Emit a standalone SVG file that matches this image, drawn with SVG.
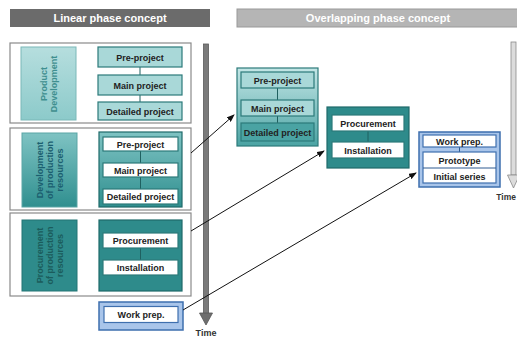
<svg xmlns="http://www.w3.org/2000/svg" width="517" height="338" viewBox="0 0 517 338">
<defs>
<linearGradient id="gMid" x1="0" y1="0" x2="0" y2="1"><stop offset="0" stop-color="#7fc3c3"/><stop offset="1" stop-color="#2f8f8f"/></linearGradient>
<linearGradient id="gLight" x1="0" y1="0" x2="0" y2="1"><stop offset="0" stop-color="#c4e6e6"/><stop offset="1" stop-color="#4aa3a3"/></linearGradient>
<linearGradient id="gPale" x1="0" y1="0" x2="0" y2="1"><stop offset="0" stop-color="#b6dede"/><stop offset="1" stop-color="#8ccaca"/></linearGradient>
<marker id="ah" markerWidth="8" markerHeight="6" refX="7" refY="3" orient="auto" markerUnits="userSpaceOnUse"><path d="M0,0 L8,3 L0,6 Z" fill="#111"/></marker>
</defs>
<style>
text{font-family:"Liberation Sans",Arial,sans-serif;font-weight:bold;}
.hd{font-size:11px;fill:#fff;text-anchor:middle;}
.lb{font-size:9px;fill:#222;text-anchor:middle;}
.rt{font-size:9px;text-anchor:middle;}
.panel{fill:#fff;stroke:#8a8a8a;stroke-width:1.2;}
.pale{fill:#a9d8d8;stroke:#2c7a7a;stroke-width:1.2;}
.wb{fill:#fff;stroke:#2c7a7a;stroke-width:1.2;}
.dk{fill:#2e8b8b;stroke:#1f6a6a;stroke-width:1.2;}
.bl{fill:#a9c5ea;stroke:#3e6fae;stroke-width:1.5;}
.wbb{fill:#fff;stroke:#3e6fae;stroke-width:1.2;}
.ln{stroke:#1f6060;stroke-width:1;}
.lnb{stroke:#2e5a90;stroke-width:1;}
.cn{stroke:#111;stroke-width:1;fill:none;marker-end:url(#ah);}
</style>
<rect width="517" height="338" fill="#fff"/>

<g id="header-linear">
<rect x="10" y="9" width="200" height="18" fill="#6b6b6b"/>
<text class="hd" x="110" y="22">Linear phase concept</text>
</g>
<g id="header-overlap">
<rect x="237" y="9" width="285" height="18" fill="#b5b5b5" stroke="#999" stroke-width="1"/>
<text class="hd" x="378" y="22" fill="#f4f4f4">Overlapping phase concept</text>
</g>

<g id="time-left">
<rect x="203.5" y="44" width="5" height="270" fill="#7a7a7a" stroke="#5a5a5a" stroke-width="0.8"/>
<polygon points="199.5,313 212.5,313 206,325" fill="#6e6e6e" stroke="#555" stroke-width="0.8"/>
<text x="206" y="336" font-size="9" fill="#333" text-anchor="middle">Time</text>
</g>
<g id="time-right">
<rect x="511" y="42" width="5" height="133" fill="#dcdcdc" stroke="#8a8a8a" stroke-width="0.8"/>
<polygon points="507.5,175 519.5,175 513.5,188" fill="#dcdcdc" stroke="#8a8a8a" stroke-width="0.8"/>
<text x="516" y="200" font-size="8.5" fill="#333" text-anchor="end">Time</text>
</g>

<g id="panel-product-development">
<rect class="panel" x="10" y="43" width="181" height="80"/>
<rect x="21" y="47" width="55" height="73" fill="url(#gPale)" stroke="#7ab8b8" stroke-width="1"/>
<text class="rt" fill="#3f8f8f" transform="translate(48.5,84) rotate(-90)"><tspan x="0" y="-2">Product</tspan><tspan x="0" y="8">Development</tspan></text>
<line class="ln" x1="140" y1="67" x2="140" y2="102"/>
<rect class="pale" x="98" y="47" width="84" height="20"/>
<text class="lb" x="140" y="60.5">Pre-project</text>
<rect class="pale" x="98" y="75" width="84" height="20"/>
<text class="lb" x="140" y="88.5">Main project</text>
<rect class="pale" x="98" y="102" width="84" height="18"/>
<text class="lb" x="140" y="114.5">Detailed project</text>
</g>

<g id="panel-development-resources">
<rect class="panel" x="10" y="128" width="181" height="82"/>
<rect x="22" y="133" width="55" height="74" fill="url(#gMid)" stroke="#5aa5a5" stroke-width="1"/>
<text class="rt" fill="#1c5f70" transform="translate(49.5,170) rotate(-90)"><tspan x="0" y="-7">Development</tspan><tspan x="0" y="3">of production</tspan><tspan x="0" y="13">resources</tspan></text>
<rect x="99" y="132" width="83" height="75" fill="url(#gMid)" stroke="#1f6a6a" stroke-width="1.2"/>
<line class="ln" x1="140.5" y1="151" x2="140.5" y2="189"/>
<rect class="wb" x="103" y="137" width="75" height="14"/>
<text class="lb" x="140.5" y="147.5">Pre-project</text>
<rect class="wb" x="103" y="163" width="75" height="14"/>
<text class="lb" x="140.5" y="173.5">Main project</text>
<rect class="wb" x="103" y="189" width="75" height="15"/>
<text class="lb" x="140.5" y="200">Detailed project</text>
</g>

<g id="panel-procurement-resources">
<rect class="panel" x="10" y="213" width="181" height="83"/>
<rect x="22" y="220" width="55" height="71" fill="#2e8b8b" stroke="#227575" stroke-width="1"/>
<text class="rt" fill="#1b5c5c" transform="translate(49.5,255.5) rotate(-90)"><tspan x="0" y="-7">Procurement</tspan><tspan x="0" y="3">of production</tspan><tspan x="0" y="13">resources</tspan></text>
<rect class="dk" x="99" y="220" width="83" height="71"/>
<line class="ln" x1="140.5" y1="248" x2="140.5" y2="260" stroke="#113f3f"/>
<rect class="wb" x="103" y="233" width="75" height="15"/>
<text class="lb" x="140.5" y="244">Procurement</text>
<rect class="wb" x="103" y="260" width="75" height="15"/>
<text class="lb" x="140.5" y="271">Installation</text>
</g>

<g id="work-prep-linear">
<rect class="bl" x="99" y="302" width="84" height="28"/>
<rect class="wbb" x="104" y="306.5" width="74" height="16"/>
<text class="lb" x="141" y="318">Work prep.</text>
</g>

<g id="overlap-development">
<rect x="237" y="68" width="81" height="78" fill="url(#gLight)" stroke="#2c7a7a" stroke-width="1.2"/>
<line class="ln" x1="277.5" y1="88" x2="277.5" y2="123"/>
<rect class="pale" x="241" y="72" width="73" height="16" fill="#a9dcdc"/>
<text class="lb" x="277.5" y="83.5">Pre-project</text>
<rect class="pale" x="241" y="100" width="73" height="16" fill="#a0d5d5"/>
<text class="lb" x="277.5" y="111.5">Main project</text>
<rect x="241" y="123" width="73" height="18" fill="#4aa3a3" stroke="#2c7a7a" stroke-width="1.2"/>
<text class="lb" x="277.5" y="135.5" fill="#163f3f">Detailed project</text>
</g>

<g id="overlap-procurement">
<rect class="dk" x="327" y="107" width="82" height="61"/>
<line class="ln" x1="368" y1="131" x2="368" y2="142" stroke="#113f3f"/>
<rect class="wb" x="332" y="115" width="72" height="16"/>
<text class="lb" x="368" y="126.5">Procurement</text>
<rect class="wb" x="332" y="142" width="72" height="16"/>
<text class="lb" x="368" y="153.5">Installation</text>
</g>

<g id="overlap-production">
<rect class="bl" x="419" y="132" width="81" height="55"/>
<line class="lnb" x1="459.5" y1="147" x2="459.5" y2="152"/>
<rect class="wbb" x="423" y="135" width="73" height="12"/>
<text class="lb" x="459.5" y="144.5">Work prep.</text>
<rect class="wbb" x="423" y="152" width="73" height="31"/>
<line class="lnb" x1="423" y1="168" x2="496" y2="168"/>
<text class="lb" x="459.5" y="164">Prototype</text>
<text class="lb" x="459.5" y="179.5">Initial series</text>
</g>

<g id="connectors">
<line class="cn" x1="191" y1="153" x2="234" y2="115"/>
<line class="cn" x1="191" y1="231" x2="324" y2="151"/>
<line class="cn" x1="183" y1="310" x2="416" y2="173"/>
</g>
</svg>
